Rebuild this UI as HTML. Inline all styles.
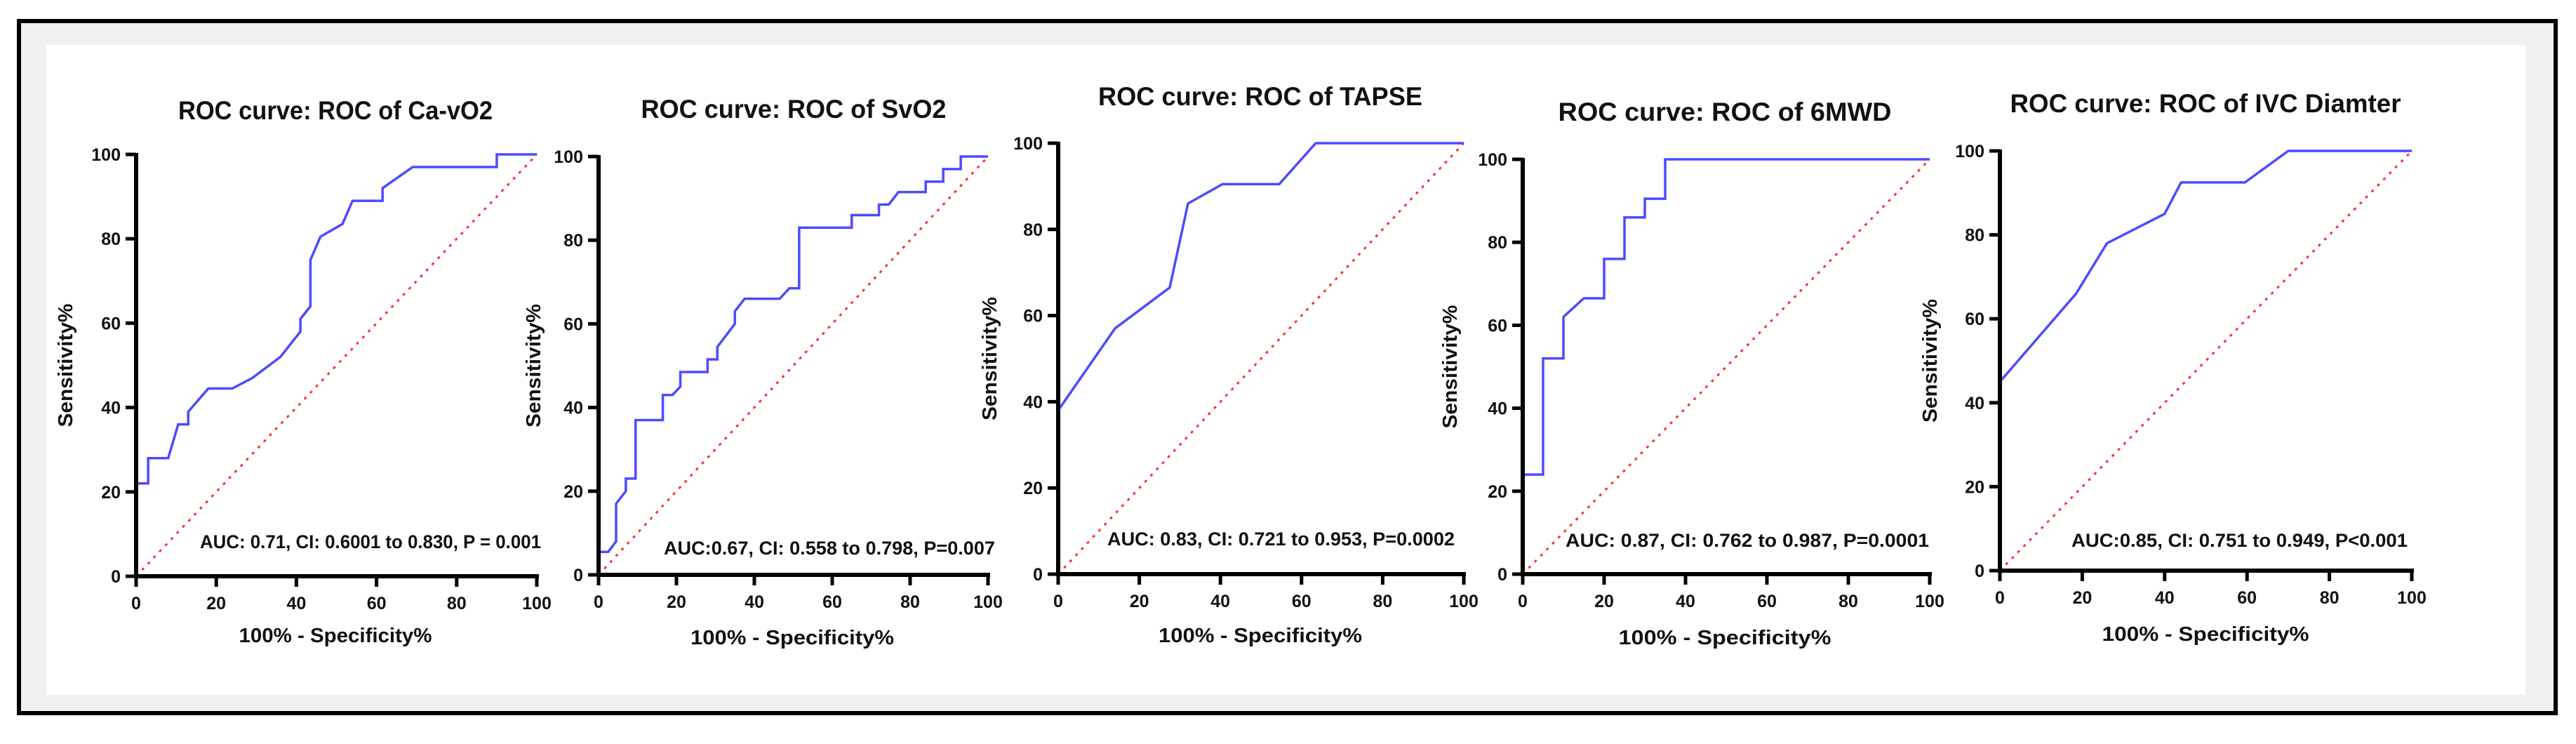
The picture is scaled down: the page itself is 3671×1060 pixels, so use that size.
<!DOCTYPE html>
<html><head><meta charset="utf-8"><style>
html,body{margin:0;padding:0;background:#fff;}
svg{display:block;}
text{font-family:"Liberation Sans",Arial,sans-serif;font-weight:bold;fill:#111;}
</style></head><body>
<svg id="fig" width="3671" height="1060" viewBox="0 0 3671 1060" xmlns="http://www.w3.org/2000/svg">
<rect x="0" y="0" width="3671" height="1060" fill="#ffffff"/>
<rect x="27" y="30" width="3615" height="986" fill="#f0f0f0" stroke="#000" stroke-width="6"/>
<rect x="66" y="64" width="3533" height="926" fill="#ffffff"/>
</svg>
<script>
// Panel 1: Ca-vO2
const caX = [0,0,3,3,8,10.5,13,13,18,24,29,36,41,41,43.5,43.5,46,51.5,54,61.5,61.5,69,90,90,100];
const caY = [0,22,22,28,28,36,36,39,44.5,44.5,47,52,58,61,64,75,80.5,83.5,89,89,92,97,97,100,100];
// Panel 2: SvO2
const svX = [0,0,2.5,4.5,4.5,7,7,9.5,9.5,16.5,16.5,19,21,21,28,28,30.5,30.5,35,35,37.5,46.5,49,51.5,51.5,65,65,72,72,74.5,77,84,84,88.5,88.5,93,93,100];
const svY = [0,5.5,5.5,8,17,20,23,23,37,37,43,43,45,48.5,48.5,51.5,51.5,54.5,60,63,66,66,68.5,68.5,83,83,86,86,88.5,88.5,91.5,91.5,94,94,97,97,100,100];
// Panel 3: TAPSE
const taX = [0,0,14,27.5,32,40.5,54.5,63.5,100];
const taY = [0,38,57,66.5,86,90.5,90.5,100,100];
// Panel 4: 6MWD
const mwX = [0,0,5,5,10,10,15,20,20,25,25,30,30,35,35,100];
const mwY = [0,24,24,52,52,62,66.5,66.5,76,76,86,86,90.5,90.5,100,100];
// Panel 5: IVC
const ivX = [0,0,18.5,26,40,44,59.5,70,100];
const ivY = [0,45,66,78,85,92.5,92.5,100,100];
const tickVals = [0,20,40,60,80,100];
const titles = ["ROC curve: ROC of Ca-vO2","ROC curve: ROC of SvO2","ROC curve: ROC of TAPSE","ROC curve: ROC of 6MWD","ROC curve: ROC of IVC Diamter"];
const aucTexts = ["AUC: 0.71, CI: 0.6001 to 0.830, P = 0.001","AUC:0.67, CI: 0.558 to 0.798, P=0.007","AUC: 0.83, CI: 0.721 to 0.953, P=0.0002","AUC: 0.87, CI: 0.762 to 0.987, P=0.0001","AUC:0.85, CI: 0.751 to 0.949, P<0.001"];

const panels = [
 {xs:caX, ys:caY, x0:194, x1:765, y0:821, y1:220, tx:478, ty:170, tw:448, ax:285, aw:486, ay:781, lx:478, ly:915, lw:275, ylx:103},
 {xs:svX, ys:svY, x0:853, x1:1408, y0:819, y1:223, tx:1131, ty:168, tw:435, ax:946, aw:472, ay:790, lx:1129, ly:918, lw:290, ylx:770},
 {xs:taX, ys:taY, x0:1508, x1:2086, y0:818, y1:204, tx:1796, ty:150, tw:462, ax:1578, aw:495, ay:777, lx:1796, ly:915, lw:290, ylx:1420},
 {xs:mwX, ys:mwY, x0:2170, x1:2750, y0:818, y1:227, tx:2458, ty:172, tw:475, ax:2231, aw:518, ay:779, lx:2458, ly:918, lw:303, ylx:2076},
 {xs:ivX, ys:ivY, x0:2850, x1:3437, y0:813, y1:215, tx:3143, ty:160, tw:557, ax:2952, aw:479, ay:779, lx:3143, ly:913, lw:295, ylx:2760}
];
const NS = "http://www.w3.org/2000/svg";
const svg = document.getElementById('fig');
function mk(tag, attrs, parent){const e=document.createElementNS(NS,tag);for(const k in attrs)e.setAttribute(k,attrs[k]);(parent||svg).appendChild(e);return e;}
panels.forEach((p,i)=>{
  const g = mk('g',{});
  
  
  const sx = v => p.x0 + v*(p.x1-p.x0)/100;
  const sy = v => p.y0 - v*(p.y0-p.y1)/100;
  // title
  const t = mk('text',{x:p.tx,y:p.ty,'text-anchor':'middle','font-size':37,textLength:p.tw,lengthAdjust:'spacingAndGlyphs'},g);
  t.textContent = titles[i];
  
  
  // diagonal
  const d = mk('line',{x1:sx(0),y1:sy(0),x2:sx(100),y2:sy(100),stroke:'#ff3030','stroke-width':3,'stroke-dasharray':'4 8'},g);
  
  
  // curve
  const pts = p.xs.map((x,k)=>sx(x)+','+sy(p.ys[k])).join(' ');
  const c = mk('polyline',{points:pts,fill:'none',stroke:'#4b4bff','stroke-width':3.5,'stroke-linejoin':'miter'},g);
  
  
  // axes
  const ya = mk('line',{x1:p.x0,y1:p.y1-2,x2:p.x0,y2:p.y0+3,stroke:'#000','stroke-width':6},g);
  
  
  const xa = mk('line',{x1:p.x0-3,y1:p.y0,x2:p.x1+3,y2:p.y0,stroke:'#000','stroke-width':6},g);
  
  
  tickVals.forEach(v=>{
    const yt = mk('line',{x1:p.x0-15,y1:sy(v),x2:p.x0,y2:sy(v),stroke:'#000','stroke-width':5},g);
    
    
    const yl = mk('text',{x:p.x0-22,y:sy(v)+9,'text-anchor':'end','font-size':25},g);
    yl.textContent = v;
    
    
    const xt = mk('line',{x1:sx(v),y1:p.y0,x2:sx(v),y2:p.y0+15,stroke:'#000','stroke-width':5},g);
    
    
    const xl = mk('text',{x:sx(v),y:p.y0+47,'text-anchor':'middle','font-size':25},g);
    xl.textContent = v;
    
    
  });
  const a = mk('text',{x:p.ax,y:p.ay,'font-size':27,textLength:p.aw,lengthAdjust:'spacingAndGlyphs'},g);
  a.textContent = aucTexts[i];
  
  
  const xlab = mk('text',{x:p.lx,y:p.ly,'text-anchor':'middle','font-size':29,textLength:p.lw,lengthAdjust:'spacingAndGlyphs'},g);
  xlab.textContent = '100% - Specificity%';
  
  
  const cy = (p.y0+p.y1)/2;
  const ylab = mk('text',{x:p.ylx,y:cy,'text-anchor':'middle','font-size':29,transform:'rotate(-90 '+p.ylx+' '+cy+')',textLength:176,lengthAdjust:'spacingAndGlyphs'},g);
  ylab.textContent = 'Sensitivity%';
  
  
});
</script>
</body></html>
